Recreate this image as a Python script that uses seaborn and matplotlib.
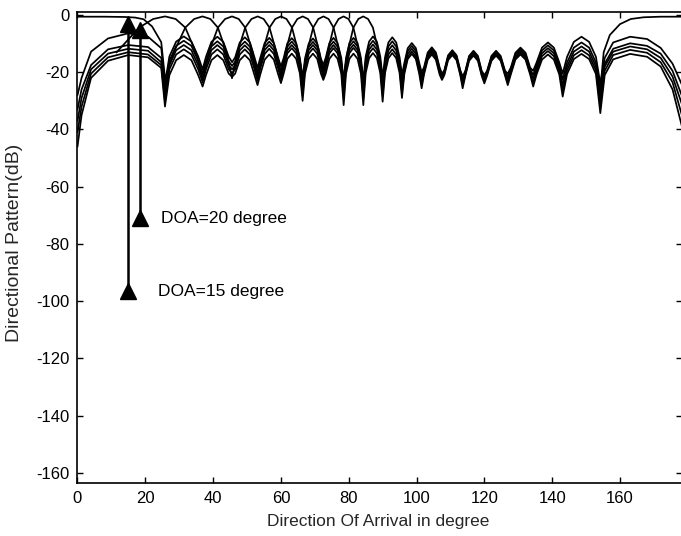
import matplotlib
matplotlib.use("Agg")
import matplotlib.pyplot as plt
import numpy as np
import pandas as pd
import seaborn as sns

# ---------------- data ----------------
# sample angles (deg) of each lobe of the dense "cluster" patterns
LOBE_X = [
    [0, 1.2, 4, 9, 15, 20.8, 24.7],
    [25.8, 27.1, 29.1, 31.35, 33.6, 35.6],
    [36.9, 37.9, 39.5, 41.25, 43.0, 44.6],
    [45.6, 46.5, 47.85, 49.35, 50.85, 52.2],
    [53.1, 53.9, 55.2, 56.55, 57.9, 59.2],
    [60.0, 60.8, 61.9, 63.2, 64.5, 65.6],
    [66.4, 67.1, 68.2, 69.45, 70.7, 71.8],
    [72.5, 73.2, 74.3, 75.5, 76.7, 77.8],
    [78.5, 79.2, 80.2, 81.4, 82.6, 83.6],
    [84.3, 85.0, 86.0, 87.15, 88.3, 89.3],
    [90.0, 90.7, 91.7, 92.85, 94.0, 95.0],
    [95.7, 96.4, 97.4, 98.6, 99.8, 100.8],
    [101.5, 102.2, 103.3, 104.5, 105.7, 106.8],
    [107.5, 108.2, 109.3, 110.55, 111.8, 112.9],
    [113.6, 114.4, 115.5, 116.8, 118.1, 119.2],
    [120.0, 120.8, 122.1, 123.45, 124.8, 126.1],
    [126.9, 127.8, 129.15, 130.65, 132.15, 133.5],
    [134.4, 135.4, 137.0, 138.75, 140.5, 142.1],
    [143.1, 144.4, 146.4, 148.65, 150.9, 152.9],
    [154.2, 155.5, 158, 163, 168, 172, 175.5, 178.5],
]

K1 = [
    [-28, -22, -12.8, -8.2, -6.4, -7.6, -11.6],
    [-24, -14.5, -9.3, -7.5, -9.3, -14.5],
    [-19, -14.6, -9.4, -7.6, -9.4, -14.6],
    [-16.5, -14.8, -9.6, -7.8, -9.6, -14.8],
    [-18.5, -15, -9.8, -8, -9.8, -15],
    [-18, -15.1, -9.9, -8.1, -9.9, -15.1],
    [-22, -15.2, -10, -8.2, -10, -15.2],
    [-17.5, -15, -9.8, -8, -9.8, -15],
    [-23, -15, -9.8, -8, -9.8, -15],
    [-23, -14.5, -9.3, -7.5, -9.3, -14.5],
    [-22, -14.8, -9.6, -7.8, -9.6, -14.8],
    [-21, -16.8, -11.6, -9.8, -11.6, -16.8],
    [-20, -18.3, -13.1, -11.3, -13.1, -18.3],
    [-20.5, -19.3, -14.1, -12.3, -14.1, -19.3],
    [-21.5, -19.5, -14.3, -12.5, -14.3, -19.5],
    [-21, -19.5, -14.3, -12.5, -14.3, -19.5],
    [-20.5, -18.4, -13.2, -11.4, -13.2, -18.4],
    [-19.5, -16.6, -11.4, -9.6, -11.4, -16.6],
    [-20.5, -14.6, -9.4, -7.6, -9.4, -14.6],
    [-24, -15, -9.6, -7.6, -8.4, -11.5, -17, -25],
]
K2 = [
    [-33, -26, -17.5, -12, -10.5, -11.2, -15],
    [-26, -16, -10.8, -9, -10.8, -16],
    [-20.5, -16.2, -11, -9.2, -11, -16.2],
    [-17.8, -16.3, -11.1, -9.3, -11.1, -16.3],
    [-20, -16.3, -11.1, -9.3, -11.1, -16.3],
    [-19.5, -16.3, -11.1, -9.3, -11.1, -16.3],
    [-24, -16.4, -11.2, -9.4, -11.2, -16.4],
    [-18.8, -16.3, -11.1, -9.3, -11.1, -16.3],
    [-25, -16.2, -11, -9.2, -11, -16.2],
    [-25, -16, -10.8, -9, -10.8, -16],
    [-24, -16.2, -11, -9.2, -11, -16.2],
    [-23, -17.8, -12.6, -10.8, -12.6, -17.8],
    [-21.4, -18.9, -13.7, -11.9, -13.7, -18.9],
    [-21, -19.7, -14.5, -12.7, -14.5, -19.7],
    [-22.5, -19.9, -14.7, -12.9, -14.7, -19.9],
    [-21.7, -19.9, -14.7, -12.9, -14.7, -19.9],
    [-21.5, -19, -13.8, -12, -13.8, -19],
    [-20.9, -17.6, -12.4, -10.6, -12.4, -17.6],
    [-22.5, -16.6, -11.4, -9.6, -11.4, -16.6],
    [-26.5, -17, -11.8, -9.9, -10.8, -13.5, -19.5, -29],
]
K3 = [
    [-37, -29, -19, -13.5, -11.8, -12.5, -16.5],
    [-28, -17.5, -12.3, -10.5, -12.3, -17.5],
    [-22, -17.5, -12.3, -10.5, -12.3, -17.5],
    [-19, -17.6, -12.4, -10.6, -12.4, -17.6],
    [-21.5, -17.5, -12.3, -10.5, -12.3, -17.5],
    [-21, -17.5, -12.3, -10.5, -12.3, -17.5],
    [-26, -17.5, -12.3, -10.5, -12.3, -17.5],
    [-20, -17.5, -12.3, -10.5, -12.3, -17.5],
    [-27, -17.4, -12.2, -10.4, -12.2, -17.4],
    [-27, -17.3, -12.1, -10.3, -12.1, -17.3],
    [-26, -17.6, -12.4, -10.6, -12.4, -17.6],
    [-25, -18.8, -13.6, -11.8, -13.6, -18.8],
    [-22.8, -19.5, -14.3, -12.5, -14.3, -19.5],
    [-21.6, -20.1, -14.9, -13.1, -14.9, -20.1],
    [-23.5, -20.3, -15.1, -13.3, -15.1, -20.3],
    [-22.4, -20.3, -15.1, -13.3, -15.1, -20.3],
    [-22.5, -19.6, -14.4, -12.6, -14.4, -19.6],
    [-22.2, -18.6, -13.4, -11.6, -13.4, -18.6],
    [-24.5, -18, -12.8, -11, -12.8, -18],
    [-29, -18, -12.8, -11, -12, -15, -21.5, -32],
]
K4 = [
    [-41, -32, -20.5, -14.8, -13, -13.8, -17.5],
    [-30, -19, -13.8, -12, -13.8, -19],
    [-23.5, -19, -13.8, -12, -13.8, -19],
    [-20.3, -19, -13.8, -12, -13.8, -19],
    [-23, -18.8, -13.6, -11.8, -13.6, -18.8],
    [-22.4, -18.6, -13.4, -11.6, -13.4, -18.6],
    [-28, -18.7, -13.5, -11.7, -13.5, -18.7],
    [-21.4, -18.6, -13.4, -11.6, -13.4, -18.6],
    [-29, -18.5, -13.3, -11.5, -13.3, -18.5],
    [-29, -18.6, -13.4, -11.6, -13.4, -18.6],
    [-28, -19, -13.8, -12, -13.8, -19],
    [-27, -19.8, -14.6, -12.8, -14.6, -19.8],
    [-24.2, -20.1, -14.9, -13.1, -14.9, -20.1],
    [-22.1, -20.5, -15.3, -13.5, -15.3, -20.5],
    [-24.5, -20.7, -15.5, -13.7, -15.5, -20.7],
    [-23.1, -20.7, -15.5, -13.7, -15.5, -20.7],
    [-23.5, -20.2, -15, -13.2, -15, -20.2],
    [-23.6, -19.6, -14.4, -12.6, -14.4, -19.6],
    [-26.5, -19.3, -14.1, -12.3, -14.1, -19.3],
    [-31.5, -19.5, -14, -12.2, -13.2, -16.5, -23.5, -36],
]
K5 = [
    [-46, -35, -22, -16, -14, -14.8, -18.5],
    [-32, -21, -15.8, -14, -15.8, -21],
    [-25, -21, -15.8, -14, -15.8, -20.5],
    [-21.6, -20.5, -15.8, -14, -15.8, -21],
    [-24.5, -20.8, -15.6, -13.8, -15.6, -20.8],
    [-23.8, -20.5, -15.3, -13.5, -15.3, -20.5],
    [-30, -20.5, -15.3, -13.5, -15.3, -20.5],
    [-22.7, -20.5, -15.3, -13.5, -15.3, -20.5],
    [-31.5, -20.5, -15.3, -13.5, -15.3, -20.5],
    [-31.5, -20.3, -15.1, -13.3, -15.1, -20.3],
    [-30.3, -20.3, -15.1, -13.3, -15.1, -20.3],
    [-29, -20.6, -15.4, -13.6, -15.4, -20.6],
    [-25.6, -20.8, -15.6, -13.8, -15.6, -20.8],
    [-22.7, -21, -15.8, -14, -15.8, -21],
    [-25.6, -21.2, -16, -14.2, -16, -21.2],
    [-23.9, -21.2, -16, -14.2, -16, -21.2],
    [-24.5, -20.8, -15.6, -13.8, -15.6, -20.8],
    [-25, -20.8, -15.6, -13.8, -15.6, -20.8],
    [-28.5, -20.6, -15.4, -13.6, -15.4, -20.6],
    [-34.3, -21, -15.5, -13.6, -14.6, -18, -26, -40],
]
CLUSTER = {"K1": K1, "K2": K2, "K3": K3, "K4": K4, "K5": K5}

# upper beams (main lobes reaching ~0 dB)
ARC_X = [
    [0, 8, 14, 17, 19.5, 22, 24.7, 25.8],
    [11.48, 18.19, 22.33, 25.84, 28.96, 31.79, 34.92, 36.87],
    [25.84, 28.36, 31.79, 34.41, 36.87, 39.19, 41.41, 43.95, 45.57],
    [36.87, 38.74, 41.41, 43.53, 45.57, 47.55, 49.46, 51.68, 53.13],
    [45.57, 47.16, 49.46, 51.32, 53.13, 54.90, 56.63, 58.67, 60.0],
    [53.13, 54.55, 56.63, 58.33, 60.0, 61.64, 63.26, 65.17, 66.42],
    [60.0, 61.31, 63.26, 64.85, 66.42, 67.98, 69.51, 71.34, 72.54],
    [66.42, 67.67, 69.51, 71.03, 72.54, 74.04, 75.52, 77.29, 78.46],
    [72.54, 73.74, 75.52, 77.0, 78.46, 79.92, 81.37, 83.11, 84.26],
    [78.46, 79.63, 81.37, 82.82, 84.26, 85.70, 87.13, 88.85, 90.0],
    [154.2, 155.2, 157, 160, 163.2, 167, 172, 178.5],
]
ARC_Y = [
    [-0.6, -0.6, -0.7, -0.9, -1.5, -4, -9.5, -22],
    [-13.1, -4.4, -1.4, -0.5, -1.4, -4.4, -13.1, -22],
    [-22, -13.1, -4.4, -1.4, -0.5, -1.4, -4.4, -13.1, -22],
    [-22, -13.1, -4.4, -1.4, -0.5, -1.4, -4.4, -13.1, -22],
    [-22, -13.1, -4.4, -1.4, -0.5, -1.4, -4.4, -13.1, -22],
    [-22, -13.1, -4.4, -1.4, -0.5, -1.4, -4.4, -13.1, -22],
    [-22, -13.1, -4.4, -1.4, -0.5, -1.4, -4.4, -13.1, -22],
    [-22, -13.1, -4.4, -1.4, -0.5, -1.4, -4.4, -13.1, -22],
    [-22, -13.1, -4.4, -1.4, -0.5, -1.4, -4.4, -13.1, -22],
    [-22, -13.1, -4.4, -1.4, -0.5, -1.4, -4.4, -13.1, -22],
    [-26, -13, -7, -3.2, -1.4, -0.8, -0.6, -0.6],
]

# DOA markers
DOA_X = [14.9, 18.4]
DOA_LOW = [-96.5, -71.0]
DOA_HIGH = [-3.2, -5.2]
DOA_LABELS = ["DOA=15 degree", "DOA=20 degree"]
DOA_TEXT_X = [23.7, 24.5]

X_TICKS = [0, 20, 40, 60, 80, 100, 120, 140, 160]
Y_TICKS = [0, -20, -40, -60, -80, -100, -120, -140, -160]

# ---------------- build long table ----------------
rows = []
for name, lobes in CLUSTER.items():
    for xs, ys in zip(LOBE_X, lobes):
        for x, y in zip(xs, ys):
            rows.append((name, x, y))
for i, (xs, ys) in enumerate(zip(ARC_X, ARC_Y)):
    for x, y in zip(xs, ys):
        rows.append((f"A{i}", x, y))
df = pd.DataFrame(rows, columns=["curve", "angle", "level"])

# ---------------- plot ----------------
sns.set_style("ticks")
plt.rcParams["font.family"] = ["Liberation Sans", "DejaVu Sans"]
plt.rcParams["axes.unicode_minus"] = False

fig = plt.figure(figsize=(6.81, 5.36), dpi=100)
ax = fig.add_axes([0.1138, 0.0989, 0.8882, 0.8793])

sns.lineplot(data=df, x="angle", y="level", units="curve", estimator=None,
             sort=False, color="black", linewidth=1.25, ax=ax, legend=False)

ax.vlines(DOA_X, DOA_LOW, DOA_HIGH, color="black", linewidth=1.8)
ax.plot(DOA_X, DOA_LOW, linestyle="none", marker="^", color="black", markersize=12)
ax.plot(DOA_X, DOA_HIGH, linestyle="none", marker="^", color="black", markersize=12)
for x, y, s in zip(DOA_TEXT_X, DOA_LOW, DOA_LABELS):
    ax.text(x, y, s, fontsize=12.5, ha="left", va="center", color="black")

ax.set_xlim(0, 178.4)
ax.set_ylim(-163.5, 1.15)
ax.set_xticks(X_TICKS)
ax.set_yticks(Y_TICKS)
ax.tick_params(direction="in", length=4, width=1, top=True, right=True,
               labelsize=12, pad=6, colors="black")
for sp in ax.spines.values():
    sp.set_linewidth(1.2)
    sp.set_color("black")

ax.set_xlabel("Direction Of Arrival in degree", fontsize=12.5)
ax.set_ylabel("Directional Pattern(dB)", fontsize=14)
ax.xaxis.set_label_coords(0.4975, -0.066)
ax.yaxis.set_label_coords(-0.09, 0.51)

fig.savefig("out.png", dpi=100)
